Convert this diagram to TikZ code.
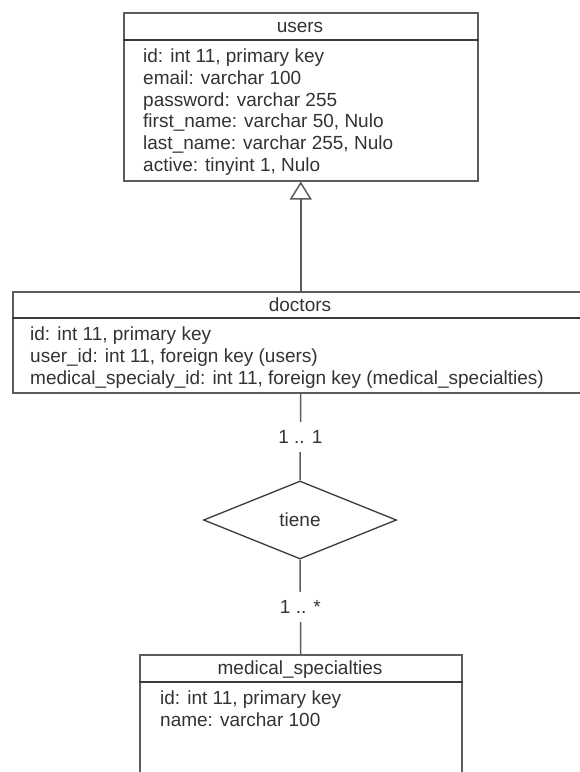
\documentclass[tikz,border=0pt]{standalone}
\usepackage{fontspec}
\setmainfont{Liberation Sans}
\usetikzlibrary{shapes.geometric,arrows.meta,calc}
\definecolor{edge}{HTML}{5C5C5C}
\definecolor{rule}{HTML}{3A3A3A}
\definecolor{ink}{HTML}{333333}
\begin{document}
\begin{tikzpicture}[x=1pt,y=-1pt,
  font=\fontsize{19}{22}\selectfont, text=ink,
  table/.style={draw=edge, line width=1.5pt, rectangle, inner sep=0pt, anchor=north west},
  sep/.style={draw=rule, line width=1.5pt},
  title/.style={anchor=base, inner sep=0pt},
  field/.style={anchor=base west, inner sep=0pt},
  conn/.style={draw=edge, line width=1.5pt},
  mult/.style={fill=white, inner sep=0pt, minimum height=30pt, minimum width=46pt},
  relation/.style={diamond, draw=rule, line width=1.3pt, inner sep=0pt,
    minimum width=193pt, minimum height=78pt}
]
\useasboundingbox (0,0) rectangle (580,772);
\clip (0,0) rectangle (580,772);
\fill[white] (0,0) rectangle (580,772);

% users table
\node[table, minimum width=354pt, minimum height=168pt] (users) at (123,12) {};
\draw[sep] ($(users.north west)+(0,28)$) -- ($(users.north east)+(0,28)$);
\node[title] (usersT) at (300,32.3) {users};
\node[field] (u1) at (143,62.5) {id: int 11, primary key};
\node[field] (u2) at (143,84.3) {email: varchar 100};
\node[field] (u3) at (143,106.1) {password: varchar 255};
\node[field] (u4) at (143,127.9) {first\_name: varchar 50, Nulo};
\node[field] (u5) at (143,149.7) {last\_name: varchar 255, Nulo};
\node[field] (u6) at (143,171.5) {active: tinyint 1, Nulo};

% doctors table
\node[table, minimum width=576pt, minimum height=101pt] (doctors) at (12,291) {};
\draw[sep] ($(doctors.north west)+(0,27)$) -- ($(doctors.north east)+(0,27)$);
\node[title] (doctorsT) at (300,311.5) {doctors};
\node[field] (d1) at (30,340.5) {id: int 11, primary key};
\node[field] (d2) at (30,362.3) {user\_id: int 11, foreign key (users)};
\node[field] (d3) at (30,384.1) {medical\_specialy\_id: int 11, foreign key (medical\_specialties)};

% relationship
\node[relation] (tiene) at (300,520) {tiene};

% medical_specialties table
\node[table, minimum width=322pt, minimum height=140pt] (med) at (139,654) {};
\draw[sep] ($(med.north west)+(0,28)$) -- ($(med.north east)+(0,28)$);
\node[title] (medT) at (300,674.3) {medical\_specialties};
\node[field] (m1) at (160,704.5) {id: int 11, primary key};
\node[field] (m2) at (160,726.3) {name: varchar 100};

% connectors
\draw[conn, -{Triangle[open, length=18pt, width=22pt, line width=1.5pt]}] (doctors.north) -- (users.south);
\draw[conn] (doctors.south) -- node[mult] (c1) {1 .. 1} (tiene.north);
\draw[conn] (tiene.south) -- node[mult] (c2) {1 .. *} (med.north);
\end{tikzpicture}
\end{document}
